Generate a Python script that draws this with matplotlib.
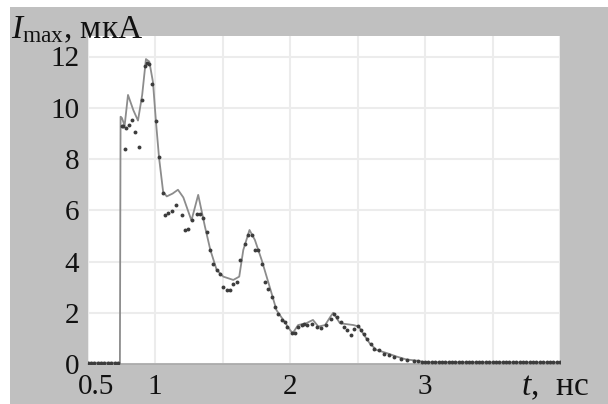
import matplotlib
matplotlib.use('Agg')
import matplotlib.pyplot as plt
import matplotlib.transforms as mtransforms
from matplotlib.patches import Rectangle

# solid curve
line_t = [0.50, 0.74, 0.745, 0.755, 0.775, 0.80, 0.84, 0.874, 0.905, 0.933, 0.958, 0.985,
          1.007, 1.03, 1.06, 1.087, 1.13, 1.17, 1.21, 1.27, 1.32, 1.37, 1.41, 1.457, 1.506,
          1.58, 1.624, 1.654, 1.70, 1.74, 1.79, 1.85, 1.90, 1.95, 2.0, 2.02, 2.06, 2.12,
          2.17, 2.21, 2.26, 2.30, 2.32, 2.37, 2.47, 2.51, 2.54, 2.59, 2.64, 2.72, 2.79,
          2.86, 2.94, 3.0, 4.0]
line_v = [0.05, 0.05, 9.65, 9.6, 9.3, 10.5, 9.9, 9.5, 10.5, 11.9, 11.8, 11.0,
          9.46, 8.05, 6.73, 6.54, 6.65, 6.8, 6.5, 5.6, 6.6, 5.36, 4.45, 3.67, 3.41,
          3.28, 3.41, 4.45, 5.23, 4.84, 4.06, 3.0, 2.1, 1.72, 1.33, 1.2, 1.52, 1.59,
          1.72, 1.46, 1.52, 1.85, 2.0, 1.59, 1.52, 1.46, 1.2, 0.81, 0.55, 0.42, 0.29,
          0.18, 0.13, 0.07, 0.06]

# dotted series
dot_t = [0.5, 0.525, 0.55, 0.575, 0.6, 0.625, 0.65, 0.675, 0.7, 0.725,
         0.753, 0.765, 0.778, 0.785, 0.81, 0.832, 0.854, 0.879, 0.904, 0.926, 0.938,
         0.958, 0.98, 1.005, 1.03, 1.057, 1.074, 1.099, 1.124, 1.156, 1.198, 1.222,
         1.242, 1.272, 1.309, 1.333, 1.358, 1.383, 1.407, 1.432, 1.457, 1.481, 1.506,
         1.531, 1.556, 1.58, 1.605, 1.63, 1.667, 1.691, 1.716, 1.74, 1.765, 1.79,
         1.815, 1.84, 1.864, 1.889, 1.913, 1.938, 1.963, 1.98, 2.013, 2.037, 2.06,
         2.087, 2.104, 2.128, 2.165, 2.202, 2.227, 2.264, 2.30, 2.326, 2.35, 2.376,
         2.40, 2.424, 2.45, 2.474, 2.5, 2.524, 2.548, 2.573, 2.598, 2.622, 2.66,
         2.696, 2.733, 2.77, 2.82, 2.87, 2.918,
         2.95, 2.975, 3.0, 3.025, 3.05, 3.075, 3.1, 3.125, 3.15, 3.175, 3.2, 3.225,
         3.25, 3.275, 3.3, 3.325, 3.35, 3.375, 3.4, 3.425, 3.45, 3.475, 3.5, 3.525,
         3.55, 3.575, 3.6, 3.625, 3.65, 3.675, 3.7, 3.725, 3.75, 3.775, 3.8, 3.825,
         3.85, 3.875, 3.9, 3.925, 3.95, 3.975, 4.0]
dot_v = [0.05, 0.05, 0.05, 0.05, 0.05, 0.05, 0.05, 0.05, 0.05, 0.05,
         9.3, 9.27, 8.39, 9.2, 9.34, 9.53, 9.05, 8.45, 10.29, 11.64, 11.75,
         11.72, 10.93, 9.47, 8.06, 6.69, 5.83, 5.90, 5.96, 6.2, 5.81, 5.22,
         5.26, 5.61, 5.87, 5.87, 5.68, 5.16, 4.44, 3.92, 3.66, 3.53, 3.0,
         2.88, 2.88, 3.14, 3.2, 4.05, 4.7, 5.03, 5.03, 4.44, 4.44, 3.92,
         3.2, 2.94, 2.62, 2.23, 1.96, 1.71, 1.64, 1.45, 1.22, 1.22, 1.45,
         1.51, 1.57, 1.51, 1.57, 1.45, 1.41, 1.51, 1.77, 1.96, 1.84, 1.64,
         1.45, 1.31, 1.12, 1.38, 1.48, 1.31, 1.18, 0.99, 0.79, 0.60, 0.53,
         0.40, 0.34, 0.27, 0.21, 0.17, 0.12,
         0.1, 0.09, 0.09, 0.08, 0.08, 0.08, 0.08, 0.08, 0.08, 0.08, 0.08, 0.08,
         0.08, 0.08, 0.08, 0.08, 0.08, 0.08, 0.08, 0.08, 0.08, 0.08, 0.08, 0.08,
         0.08, 0.08, 0.08, 0.08, 0.08, 0.08, 0.08, 0.08, 0.08, 0.08, 0.08, 0.08,
         0.08, 0.08, 0.08, 0.08, 0.08, 0.08, 0.08]

x_ticks = [0.5, 1.0, 1.5, 2.0, 2.5, 3.0, 3.5, 4.0]
x_labels = ['0.5', '1', '', '2', '', '3', '', '']
y_ticks = [0, 2, 4, 6, 8, 10, 12]
y_labels = ['0', '2', '4', '6', '8', '10', '12']

plt.rcParams['font.family'] = 'Liberation Serif'
plt.rcParams['mathtext.fontset'] = 'custom'
plt.rcParams['mathtext.rm'] = 'Liberation Serif'
plt.rcParams['mathtext.it'] = 'Liberation Serif:italic'

fig = plt.figure(figsize=(6.08, 4.04), dpi=100, facecolor='white')
# gray panel behind the plot
fig.patches.append(Rectangle((10 / 608, 0), 1, 397 / 404, transform=fig.transFigure,
                             facecolor='#c0c0c0', edgecolor='none', zorder=-5))

ax = fig.add_axes([87.5 / 608, 40 / 404, 472.5 / 608, 328 / 404])
ax.set_zorder(1)
ax.set_facecolor('white')
ax.plot(line_t, line_v, color='#8c8c8c', lw=1.3, zorder=2)
ax.plot(dot_t, dot_v, 'o', color='#3c3c3c', ms=2.8, mew=0, zorder=3)

ax.set_xlim(0.5, 4.0)
ax.set_ylim(0, 12.8)
ax.set_xticks(x_ticks)
ax.set_xticklabels(x_labels, fontsize=21)
ax.set_yticks(y_ticks)
ax.set_yticklabels(y_labels, fontsize=21)
ax.tick_params(length=0, pad=6, colors='#111111')
ax.tick_params(axis='x', pad=7)
ax.grid(True, color='#ececec', lw=1.5)
ax.set_axisbelow(True)
for s in ['top', 'left', 'right']:
    ax.spines[s].set_visible(False)
ax.spines['bottom'].set_color('#a8a8a8')
ax.spines['bottom'].set_linewidth(1.2)

# nudge the "0.5" label to the right as in the original
lab = ax.get_xticklabels()[0]
lab.set_transform(lab.get_transform() + mtransforms.ScaledTranslation(9 / 100, 0, fig.dpi_scale_trans))

fig.text(11 / 608, 1 - 38 / 404, r'$I_{\rm max}$, мкА', fontsize=24, color='#111111',
         ha='left', va='baseline')
fig.text(521 / 608, 1 - 395 / 404, r'$t$,  нс', fontsize=24, color='#111111',
         ha='left', va='baseline')

fig.savefig('out.png', dpi=100, facecolor=fig.get_facecolor())
